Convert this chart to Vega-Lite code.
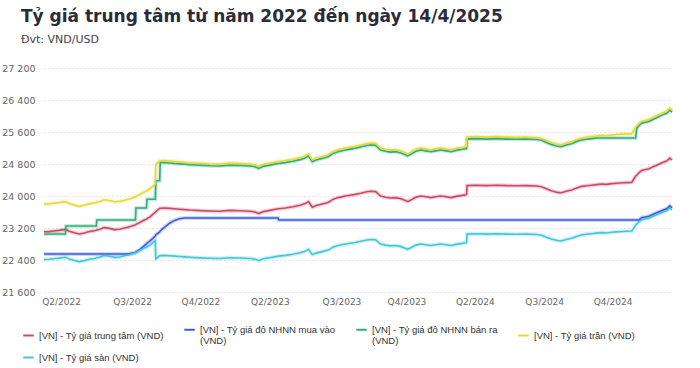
{
  "$schema": "https://vega.github.io/schema/vega-lite/v6.json",
  "width": 628,
  "height": 224,
  "autosize": {"type": "none"},
  "padding": {"left": 44, "top": 68, "right": 28, "bottom": 76},
  "background": "#ffffff",
  "title": {
    "text": "Tỷ giá trung tâm từ năm 2022 đến ngày 14/4/2025",
    "subtitle": "Đvt: VND/USD",
    "anchor": "start",
    "frame": "group",
    "dx": -23,
    "offset": 17,
    "font": "DejaVu Sans",
    "fontSize": 17,
    "fontWeight": "bold",
    "color": "#2b2c3a",
    "subtitleFont": "DejaVu Sans",
    "subtitleFontSize": 11,
    "subtitleColor": "#444444",
    "subtitlePadding": 8
  },
  "data": {
    "values": [
      {"date": "2022-03-01", "tt": 23105, "mua": 22550, "ban": 23050, "tran": 23798, "san": 22412},
      {"date": "2022-03-10", "tt": 23110, "mua": 22550, "ban": 23050, "tran": 23803, "san": 22417},
      {"date": "2022-03-19", "tt": 23125, "mua": 22550, "ban": 23050, "tran": 23819, "san": 22431},
      {"date": "2022-03-28", "tt": 23140, "mua": 22550, "ban": 23050, "tran": 23834, "san": 22446},
      {"date": "2022-04-09", "tt": 23165, "mua": 22550, "ban": 23050, "tran": 23860, "san": 22470},
      {"date": "2022-04-10", "tt": 23160, "mua": 22550, "ban": 23250, "tran": 23855, "san": 22465},
      {"date": "2022-04-16", "tt": 23120, "mua": 22550, "ban": 23250, "tran": 23814, "san": 22426},
      {"date": "2022-04-25", "tt": 23080, "mua": 22550, "ban": 23250, "tran": 23772, "san": 22388},
      {"date": "2022-05-04", "tt": 23050, "mua": 22550, "ban": 23250, "tran": 23742, "san": 22359},
      {"date": "2022-05-13", "tt": 23075, "mua": 22550, "ban": 23250, "tran": 23767, "san": 22383},
      {"date": "2022-05-22", "tt": 23110, "mua": 22550, "ban": 23250, "tran": 23803, "san": 22417},
      {"date": "2022-05-31", "tt": 23130, "mua": 22550, "ban": 23250, "tran": 23824, "san": 22436},
      {"date": "2022-06-04", "tt": 23145, "mua": 22550, "ban": 23250, "tran": 23839, "san": 22451},
      {"date": "2022-06-05", "tt": 23150, "mua": 22550, "ban": 23400, "tran": 23845, "san": 22456},
      {"date": "2022-06-09", "tt": 23160, "mua": 22550, "ban": 23400, "tran": 23855, "san": 22465},
      {"date": "2022-06-18", "tt": 23210, "mua": 22550, "ban": 23400, "tran": 23906, "san": 22514},
      {"date": "2022-06-28", "tt": 23190, "mua": 22550, "ban": 23400, "tran": 23886, "san": 22494},
      {"date": "2022-07-07", "tt": 23160, "mua": 22550, "ban": 23400, "tran": 23855, "san": 22465},
      {"date": "2022-07-16", "tt": 23170, "mua": 22550, "ban": 23400, "tran": 23865, "san": 22475},
      {"date": "2022-07-25", "tt": 23200, "mua": 22550, "ban": 23400, "tran": 23896, "san": 22504},
      {"date": "2022-07-30", "tt": 23215, "mua": 22550, "ban": 23400, "tran": 23911, "san": 22519},
      {"date": "2022-08-03", "tt": 23230, "mua": 22555, "ban": 23400, "tran": 23927, "san": 22533},
      {"date": "2022-08-12", "tt": 23270, "mua": 22580, "ban": 23400, "tran": 23968, "san": 22572},
      {"date": "2022-08-14", "tt": 23280, "mua": 22590, "ban": 23400, "tran": 23978, "san": 22582},
      {"date": "2022-08-15", "tt": 23290, "mua": 22600, "ban": 23700, "tran": 23989, "san": 22591},
      {"date": "2022-08-21", "tt": 23330, "mua": 22650, "ban": 23700, "tran": 24030, "san": 22630},
      {"date": "2022-08-30", "tt": 23400, "mua": 22760, "ban": 23700, "tran": 24102, "san": 22698},
      {"date": "2022-09-03", "tt": 23420, "mua": 22800, "ban": 23700, "tran": 24123, "san": 22717},
      {"date": "2022-09-04", "tt": 23435, "mua": 22820, "ban": 23920, "tran": 24138, "san": 22732},
      {"date": "2022-09-09", "tt": 23470, "mua": 22870, "ban": 23920, "tran": 24174, "san": 22766},
      {"date": "2022-09-16", "tt": 23560, "mua": 22960, "ban": 23920, "tran": 24267, "san": 22853},
      {"date": "2022-09-19", "tt": 23590, "mua": 23000, "ban": 23920, "tran": 24298, "san": 22882},
      {"date": "2022-09-20", "tt": 23610, "mua": 23030, "ban": 24380, "tran": 24791, "san": 22430},
      {"date": "2022-09-27", "tt": 23690, "mua": 23100, "ban": 24380, "tran": 24875, "san": 22506},
      {"date": "2022-09-28", "tt": 23695, "mua": 23125, "ban": 24830, "tran": 24880, "san": 22510},
      {"date": "2022-10-06", "tt": 23700, "mua": 23220, "ban": 24835, "tran": 24885, "san": 22515},
      {"date": "2022-10-15", "tt": 23690, "mua": 23320, "ban": 24825, "tran": 24875, "san": 22506},
      {"date": "2022-10-24", "tt": 23680, "mua": 23390, "ban": 24814, "tran": 24864, "san": 22496},
      {"date": "2022-11-02", "tt": 23670, "mua": 23430, "ban": 24804, "tran": 24854, "san": 22487},
      {"date": "2022-11-11", "tt": 23660, "mua": 23450, "ban": 24793, "tran": 24843, "san": 22477},
      {"date": "2022-11-20", "tt": 23650, "mua": 23450, "ban": 24783, "tran": 24833, "san": 22468},
      {"date": "2022-12-09", "tt": 23635, "mua": 23450, "ban": 24767, "tran": 24817, "san": 22453},
      {"date": "2022-12-27", "tt": 23625, "mua": 23450, "ban": 24756, "tran": 24806, "san": 22444},
      {"date": "2023-01-14", "tt": 23620, "mua": 23450, "ban": 24751, "tran": 24801, "san": 22439},
      {"date": "2023-02-01", "tt": 23640, "mua": 23450, "ban": 24772, "tran": 24822, "san": 22458},
      {"date": "2023-02-20", "tt": 23630, "mua": 23450, "ban": 24762, "tran": 24812, "san": 22449},
      {"date": "2023-03-10", "tt": 23620, "mua": 23450, "ban": 24751, "tran": 24801, "san": 22439},
      {"date": "2023-03-19", "tt": 23600, "mua": 23450, "ban": 24730, "tran": 24780, "san": 22420},
      {"date": "2023-03-26", "tt": 23560, "mua": 23450, "ban": 24688, "tran": 24738, "san": 22382},
      {"date": "2023-04-03", "tt": 23610, "mua": 23450, "ban": 24741, "tran": 24791, "san": 22430},
      {"date": "2023-04-15", "tt": 23640, "mua": 23450, "ban": 24772, "tran": 24822, "san": 22458},
      {"date": "2023-04-30", "tt": 23680, "mua": 23450, "ban": 24814, "tran": 24864, "san": 22496},
      {"date": "2023-05-01", "tt": 23680, "mua": 23400, "ban": 24814, "tran": 24864, "san": 22496},
      {"date": "2023-05-13", "tt": 23700, "mua": 23400, "ban": 24835, "tran": 24885, "san": 22515},
      {"date": "2023-05-27", "tt": 23730, "mua": 23400, "ban": 24867, "tran": 24917, "san": 22544},
      {"date": "2023-06-09", "tt": 23770, "mua": 23400, "ban": 24909, "tran": 24959, "san": 22582},
      {"date": "2023-06-18", "tt": 23810, "mua": 23400, "ban": 24951, "tran": 25001, "san": 22620},
      {"date": "2023-06-24", "tt": 23860, "mua": 23400, "ban": 25003, "tran": 25053, "san": 22667},
      {"date": "2023-07-01", "tt": 23720, "mua": 23400, "ban": 24856, "tran": 24906, "san": 22534},
      {"date": "2023-07-08", "tt": 23760, "mua": 23400, "ban": 24898, "tran": 24948, "san": 22572},
      {"date": "2023-07-19", "tt": 23800, "mua": 23400, "ban": 24940, "tran": 24990, "san": 22610},
      {"date": "2023-07-30", "tt": 23840, "mua": 23400, "ban": 24982, "tran": 25032, "san": 22648},
      {"date": "2023-08-08", "tt": 23920, "mua": 23400, "ban": 25066, "tran": 25116, "san": 22724},
      {"date": "2023-08-17", "tt": 23960, "mua": 23400, "ban": 25108, "tran": 25158, "san": 22762},
      {"date": "2023-08-30", "tt": 24000, "mua": 23400, "ban": 25150, "tran": 25200, "san": 22800},
      {"date": "2023-09-08", "tt": 24020, "mua": 23400, "ban": 25171, "tran": 25221, "san": 22819},
      {"date": "2023-09-17", "tt": 24040, "mua": 23400, "ban": 25192, "tran": 25242, "san": 22838},
      {"date": "2023-09-27", "tt": 24070, "mua": 23400, "ban": 25224, "tran": 25274, "san": 22867},
      {"date": "2023-10-06", "tt": 24100, "mua": 23400, "ban": 25255, "tran": 25305, "san": 22895},
      {"date": "2023-10-15", "tt": 24120, "mua": 23400, "ban": 25276, "tran": 25326, "san": 22914},
      {"date": "2023-10-24", "tt": 24110, "mua": 23400, "ban": 25266, "tran": 25316, "san": 22905},
      {"date": "2023-11-02", "tt": 24000, "mua": 23400, "ban": 25150, "tran": 25200, "san": 22800},
      {"date": "2023-11-11", "tt": 23970, "mua": 23400, "ban": 25119, "tran": 25169, "san": 22772},
      {"date": "2023-11-20", "tt": 23950, "mua": 23400, "ban": 25098, "tran": 25148, "san": 22753},
      {"date": "2023-11-29", "tt": 23960, "mua": 23400, "ban": 25108, "tran": 25158, "san": 22762},
      {"date": "2023-12-09", "tt": 23930, "mua": 23400, "ban": 25077, "tran": 25127, "san": 22734},
      {"date": "2023-12-18", "tt": 23880, "mua": 23400, "ban": 25024, "tran": 25074, "san": 22686},
      {"date": "2023-12-21", "tt": 23860, "mua": 23400, "ban": 25003, "tran": 25053, "san": 22667},
      {"date": "2023-12-27", "tt": 23900, "mua": 23400, "ban": 25045, "tran": 25095, "san": 22705},
      {"date": "2024-01-05", "tt": 23970, "mua": 23400, "ban": 25119, "tran": 25169, "san": 22772},
      {"date": "2024-01-14", "tt": 24000, "mua": 23400, "ban": 25150, "tran": 25200, "san": 22800},
      {"date": "2024-01-23", "tt": 23980, "mua": 23400, "ban": 25129, "tran": 25179, "san": 22781},
      {"date": "2024-02-01", "tt": 23960, "mua": 23400, "ban": 25108, "tran": 25158, "san": 22762},
      {"date": "2024-02-10", "tt": 23980, "mua": 23400, "ban": 25129, "tran": 25179, "san": 22781},
      {"date": "2024-02-19", "tt": 24000, "mua": 23400, "ban": 25150, "tran": 25200, "san": 22800},
      {"date": "2024-02-29", "tt": 23980, "mua": 23400, "ban": 25129, "tran": 25179, "san": 22781},
      {"date": "2024-03-09", "tt": 23960, "mua": 23400, "ban": 25108, "tran": 25158, "san": 22762},
      {"date": "2024-03-18", "tt": 23990, "mua": 23400, "ban": 25140, "tran": 25190, "san": 22791},
      {"date": "2024-03-27", "tt": 24010, "mua": 23400, "ban": 25161, "tran": 25211, "san": 22810},
      {"date": "2024-04-05", "tt": 24030, "mua": 23400, "ban": 25182, "tran": 25232, "san": 22829},
      {"date": "2024-04-06", "tt": 24040, "mua": 23400, "ban": 25192, "tran": 25242, "san": 22838},
      {"date": "2024-04-07", "tt": 24260, "mua": 23400, "ban": 25423, "tran": 25473, "san": 23047},
      {"date": "2024-04-23", "tt": 24270, "mua": 23400, "ban": 25434, "tran": 25484, "san": 23057},
      {"date": "2024-05-12", "tt": 24260, "mua": 23400, "ban": 25423, "tran": 25473, "san": 23047},
      {"date": "2024-05-30", "tt": 24270, "mua": 23400, "ban": 25434, "tran": 25484, "san": 23057},
      {"date": "2024-06-17", "tt": 24260, "mua": 23400, "ban": 25423, "tran": 25473, "san": 23047},
      {"date": "2024-07-05", "tt": 24255, "mua": 23400, "ban": 25418, "tran": 25468, "san": 23042},
      {"date": "2024-07-23", "tt": 24260, "mua": 23400, "ban": 25423, "tran": 25473, "san": 23047},
      {"date": "2024-08-11", "tt": 24250, "mua": 23400, "ban": 25413, "tran": 25463, "san": 23038},
      {"date": "2024-08-20", "tt": 24230, "mua": 23400, "ban": 25392, "tran": 25442, "san": 23019},
      {"date": "2024-08-29", "tt": 24180, "mua": 23400, "ban": 25339, "tran": 25389, "san": 22971},
      {"date": "2024-09-07", "tt": 24130, "mua": 23400, "ban": 25287, "tran": 25337, "san": 22924},
      {"date": "2024-09-18", "tt": 24090, "mua": 23400, "ban": 25245, "tran": 25295, "san": 22886},
      {"date": "2024-09-25", "tt": 24080, "mua": 23400, "ban": 25234, "tran": 25284, "san": 22876},
      {"date": "2024-10-04", "tt": 24120, "mua": 23400, "ban": 25276, "tran": 25326, "san": 22914},
      {"date": "2024-10-14", "tt": 24150, "mua": 23400, "ban": 25308, "tran": 25358, "san": 22943},
      {"date": "2024-10-23", "tt": 24200, "mua": 23400, "ban": 25360, "tran": 25410, "san": 22990},
      {"date": "2024-11-01", "tt": 24240, "mua": 23400, "ban": 25402, "tran": 25452, "san": 23028},
      {"date": "2024-11-10", "tt": 24255, "mua": 23400, "ban": 25418, "tran": 25468, "san": 23042},
      {"date": "2024-11-19", "tt": 24270, "mua": 23400, "ban": 25434, "tran": 25484, "san": 23057},
      {"date": "2024-11-28", "tt": 24285, "mua": 23400, "ban": 25449, "tran": 25499, "san": 23071},
      {"date": "2024-12-07", "tt": 24300, "mua": 23400, "ban": 25450, "tran": 25515, "san": 23085},
      {"date": "2024-12-16", "tt": 24290, "mua": 23400, "ban": 25450, "tran": 25505, "san": 23076},
      {"date": "2024-12-26", "tt": 24310, "mua": 23400, "ban": 25450, "tran": 25526, "san": 23095},
      {"date": "2025-01-04", "tt": 24320, "mua": 23400, "ban": 25450, "tran": 25536, "san": 23104},
      {"date": "2025-01-13", "tt": 24330, "mua": 23400, "ban": 25450, "tran": 25547, "san": 23114},
      {"date": "2025-01-22", "tt": 24335, "mua": 23400, "ban": 25450, "tran": 25552, "san": 23118},
      {"date": "2025-01-31", "tt": 24340, "mua": 23400, "ban": 25450, "tran": 25557, "san": 23123},
      {"date": "2025-02-05", "tt": 24450, "mua": 23400, "ban": 25450, "tran": 25673, "san": 23228},
      {"date": "2025-02-07", "tt": 24500, "mua": 23400, "ban": 25450, "tran": 25725, "san": 23275},
      {"date": "2025-02-09", "tt": 24520, "mua": 23400, "ban": 25696, "tran": 25746, "san": 23294},
      {"date": "2025-02-13", "tt": 24580, "mua": 23401, "ban": 25759, "tran": 25809, "san": 23351},
      {"date": "2025-02-18", "tt": 24640, "mua": 23458, "ban": 25822, "tran": 25872, "san": 23408},
      {"date": "2025-03-03", "tt": 24680, "mua": 23496, "ban": 25864, "tran": 25914, "san": 23446},
      {"date": "2025-03-14", "tt": 24750, "mua": 23563, "ban": 25938, "tran": 25988, "san": 23513},
      {"date": "2025-03-27", "tt": 24830, "mua": 23639, "ban": 26022, "tran": 26072, "san": 23589},
      {"date": "2025-04-05", "tt": 24880, "mua": 23686, "ban": 26074, "tran": 26124, "san": 23636},
      {"date": "2025-04-10", "tt": 24950, "mua": 23753, "ban": 26148, "tran": 26198, "san": 23703},
      {"date": "2025-04-14", "tt": 24900, "mua": 23705, "ban": 26095, "tran": 26145, "san": 23655}
    ]
  },
  "transform": [
    {"fold": ["tt", "mua", "ban", "tran", "san"], "as": ["series", "value"]}
  ],
  "encoding": {
    "x": {
      "field": "date",
      "type": "temporal",
      "scale": {
        "domain": [
          {"year": 2022, "month": 3, "date": 1, "utc": true},
          {"year": 2025, "month": 4, "date": 14, "utc": true}
        ]
      },
      "axis": {
        "title": null,
        "values": [
          {"year": 2022, "month": 4, "date": 1, "utc": true},
          {"year": 2022, "month": 8, "date": 8, "utc": true},
          {"year": 2022, "month": 12, "date": 10, "utc": true},
          {"year": 2023, "month": 4, "date": 15, "utc": true},
          {"year": 2023, "month": 8, "date": 23, "utc": true},
          {"year": 2023, "month": 12, "date": 19, "utc": true},
          {"year": 2024, "month": 4, "date": 21, "utc": true},
          {"year": 2024, "month": 8, "date": 25, "utc": true},
          {"year": 2024, "month": 12, "date": 27, "utc": true}
        ],
        "labelExpr": "'Q' + utcquarter(datum.value) + '/' + utcyear(datum.value)",
        "grid": false,
        "ticks": false,
        "domain": false,
        "labelPadding": 5,
        "labelFont": "DejaVu Sans",
        "labelFontSize": 9,
        "labelColor": "#666666",
        "labelOverlap": false
      }
    },
    "y": {
      "field": "value",
      "type": "quantitative",
      "scale": {"domain": [21600, 27200], "nice": false, "zero": false},
      "axis": {
        "title": null,
        "values": [21600, 22400, 23200, 24000, 24800, 25600, 26400, 27200],
        "labelExpr": "replace(format(datum.value, ','), ',', ' ')",
        "grid": true,
        "gridColor": "#cfcfcf",
        "gridDash": [1, 3],
        "gridWidth": 1,
        "ticks": false,
        "domain": false,
        "labelPadding": 9,
        "labelFont": "DejaVu Sans",
        "labelFontSize": 9.5,
        "labelColor": "#666666"
      }
    },
    "color": {
      "field": "series",
      "type": "nominal",
      "scale": {
        "domain": ["tt", "mua", "ban", "tran", "san"],
        "range": ["#cc4a63", "#3d5dd6", "#2fae7a", "#e8d935", "#42c7dd"]
      },
      "legend": {
        "title": null,
        "orient": "none",
        "legendX": -22,
        "legendY": 255,
        "direction": "horizontal",
        "columns": 4,
        "columnPadding": 16,
        "rowPadding": 5,
        "symbolType": "stroke",
        "symbolSize": 110,
        "symbolStrokeWidth": 2,
        "symbolOpacity": 1,
        "labelFont": "Liberation Sans",
        "labelFontSize": 9.5,
        "labelColor": "#333333",
        "labelOffset": 4,
        "labelLimit": 300,
        "labelExpr": "datum.value == 'tt' ? '[VN] - Tỷ giá trung tâm (VND)' : datum.value == 'mua' ? ['[VN] - Tỷ giá đô NHNN mua vào', '(VND)'] : datum.value == 'ban' ? ['[VN] - Tỷ giá đô NHNN bán ra', '(VND)'] : datum.value == 'tran' ? '[VN] - Tỷ giá trần (VND)' : '[VN] - Tỷ giá sàn (VND)'"
      }
    }
  },
  "layer": [
    {"mark": {"type": "line", "strokeWidth": 4, "opacity": 0.25}},
    {"mark": {"type": "line", "strokeWidth": 1.6}}
  ],
  "config": {
    "view": {"stroke": null},
    "font": "DejaVu Sans"
  }
}
